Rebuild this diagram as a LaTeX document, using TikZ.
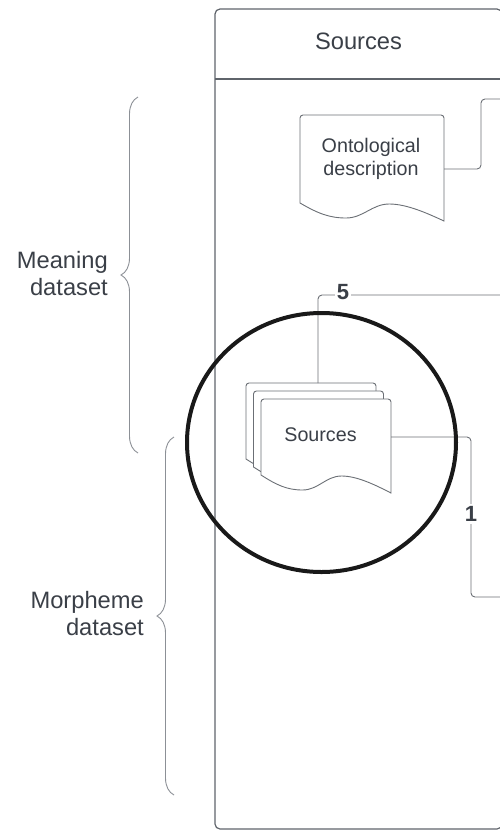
\documentclass[tikz,border=0pt]{standalone}
\usepackage{fontspec}
\setmainfont{Liberation Sans}
\usetikzlibrary{decorations.pathreplacing}

\definecolor{inkgray}{HTML}{3A3F47}
\definecolor{lanegray}{HTML}{5F646B}
\definecolor{sheetgray}{HTML}{6B6F75}
\definecolor{bracegray}{HTML}{8C9096}

\tikzset{
	lane/.style={draw=lanegray, line width=1.2pt},
	sheetline/.style={draw=sheetgray, line width=0.9pt, fill=white},
	link/.style={draw=sheetgray, line width=0.9pt, rounded corners=4pt},
	bigtext/.style={text=inkgray, font=\fontsize{23.7}{27}\selectfont},
	doctext/.style={text=inkgray, font=\fontsize{19.7}{23}\selectfont, align=center},
	steplabel/.style={text=inkgray, font=\bfseries\fontsize{22}{24}\selectfont, fill=white, inner sep=2pt},
	curly/.style={draw=bracegray, line width=0.9pt, decorate, decoration={brace, amplitude=17pt}},
	focus/.style={draw=black!90, line width=4pt},
}

% document sheet: left, top, width, height of the left side
\newcommand{\sheet}[4]{\draw[sheetline] (#1,#2+#4) [rounded corners=3pt] -- (#1,#2) -- (#1+#3,#2) [sharp corners] -- (#1+#3,#2+#4+18)
	.. controls (#1+0.88*#3,#2+#4+10) and (#1+0.74*#3,#2+#4+1) .. (#1+0.62*#3,#2+#4+1)
	.. controls (#1+0.5*#3,#2+#4+1) and (#1+0.44*#3,#2+#4+15) .. (#1+0.32*#3,#2+#4+15)
	.. controls (#1+0.2*#3,#2+#4+15) and (#1+0.12*#3,#2+#4+10) .. (#1,#2+#4) -- cycle;}

\begin{document}
\begin{tikzpicture}[x=1pt, y=-1pt]
		%%%%% START %%%%%
		\useasboundingbox (0,0) rectangle (499,831);
		
		% swimlane
		\draw[lane, rounded corners=5pt] (215,9) rectangle (502,829);
		\draw[lane] (215,79) -- (502,79);
		\node[bigtext] (lanehead) at (358.5,41) {Sources};
		
		% ontological description
		\sheet{300}{115}{144}{88}
		\node[doctext] (ont) at (371,159) {Ontological\\description};
		
		% stack of sources
		\sheet{246}{383}{130}{76}
		\sheet{253.5}{391}{130}{76}
		\sheet{261}{399}{130}{76}
		\node[doctext] (src) at (320.5,435) {Sources};
		
		% connectors
		\coordinate (ont-r) at (444,169);
		\coordinate (ont-far) at (512,99);
		\draw[link] (ont-r) -| ++(37,-70) -- (ont-far);
		
		\coordinate (src-t) at (318,383);
		\coordinate (five-far) at (512,295);
		\draw[link] (src-t) |- (five-far);
		\node[steplabel] (five) at (343,292) {5};
		
		\coordinate (src-r) at (391,437);
		\coordinate (one-far) at (512,597);
		\draw[link] (src-r) -| ++(80,160) -- (one-far);
		\node[steplabel] (one) at (471,514) {1};
		
		% datasets
		\draw[curly] (138,453) -- (138,97);
		\node[bigtext, anchor=east, align=right, inner sep=0pt] (meaning) at (108,274) {Meaning\\dataset};
		
		\draw[curly] (174,795) -- (174,437);
		\node[bigtext, anchor=east, align=right, inner sep=0pt] (morpheme) at (144,614) {Morpheme\\dataset};
		
		% highlight
		\draw[focus] (321.5,442.5) ellipse [x radius=134.5pt, y radius=129.5pt];
		
		%%%%% END %%%%%
	\end{tikzpicture}
\end{document}
